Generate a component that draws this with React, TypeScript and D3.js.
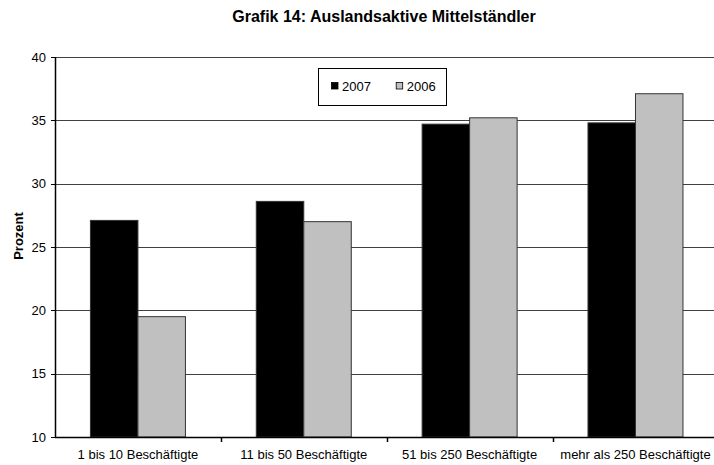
import React from "react";
import * as d3 from "d3";

const categories = [
  "1 bis 10 Beschäftigte",
  "11 bis 50 Beschäftigte",
  "51 bis 250 Beschäftigte",
  "mehr als 250 Beschäftigte",
];
const seriesNames = ["2007", "2006"];
const values2007 = [27.1, 28.6, 34.7, 34.8];
const values2006 = [19.5, 27.0, 35.2, 37.1];
const yTicks = [10, 15, 20, 25, 30, 35, 40];
const colors = ["#000000", "#C0C0C0"];

const W = 714;
const H = 465;
const FONT = "Liberation Sans, Arial, Helvetica, sans-serif";

export default function App() {
  const left = 55;
  const right = 718.4;
  const top = 57;
  const bottom = 437;

  const x = d3.scaleBand<string>().domain(categories).range([left, right]).padding(0);
  const xs = d3
    .scaleBand<string>()
    .domain(seriesNames)
    .range([0, x.bandwidth()])
    .paddingInner(0)
    .paddingOuter(0.746);
  const y = d3.scaleLinear().domain([10, 40]).range([bottom, top]);
  const seriesVals = [values2007, values2006];

  return (
    <svg
      width={W}
      height={H}
      style={{ position: "absolute", left: 0, top: 0, background: "#fff" }}
      fontFamily={FONT}
    >
      <rect x={0} y={0} width={W} height={H} fill="#fff" />
      <text x={384} y={22} textAnchor="middle" fontSize={16} fontWeight="bold">
        Grafik 14: Auslandsaktive Mittelständler
      </text>

      {/* gridlines */}
      {yTicks.slice(1).map((t) => (
        <line
          key={t}
          x1={left}
          x2={W}
          y1={Math.round(y(t)) + 0.5}
          y2={Math.round(y(t)) + 0.5}
          stroke="#000"
          strokeOpacity={0.75}
          strokeWidth={1}
        />
      ))}

      {/* bars */}
      {categories.map((c, i) =>
        seriesNames.map((s, j) => {
          const v = seriesVals[j][i];
          const x0 = (x(c) as number) + (xs(s) as number);
          return (
            <rect
              key={c + s}
              x={x0}
              y={y(v)}
              width={xs.bandwidth()}
              height={bottom - y(v)}
              fill={colors[j]}
              stroke="#333"
              strokeWidth={1}
            />
          );
        })
      )}

      {/* y axis */}
      <line x1={left + 0.5} x2={left + 0.5} y1={top} y2={bottom} stroke="#000" strokeWidth={1.5} />
      {yTicks.map((t) => (
        <g key={t}>
          <line
            x1={left - 4}
            x2={left}
            y1={Math.round(y(t)) + 0.5}
            y2={Math.round(y(t)) + 0.5}
            stroke="#000"
          />
          <text x={left - 9} y={y(t) + 4.5} textAnchor="end" fontSize={13}>
            {t}
          </text>
        </g>
      ))}
      <text
        transform={`translate(22.5,236) rotate(-90)`}
        textAnchor="middle"
        fontSize={13}
        fontWeight="bold"
      >
        Prozent
      </text>

      {/* x axis */}
      <line x1={left} x2={W} y1={bottom + 0.5} y2={bottom + 0.5} stroke="#000" strokeWidth={1.5} />
      {categories.map((c, i) => (
        <line
          key={"t" + i}
          x1={Math.round((x(c) as number) + x.bandwidth()) + 0.5}
          x2={Math.round((x(c) as number) + x.bandwidth()) + 0.5}
          y1={bottom}
          y2={bottom + 5}
          stroke="#000"
          strokeWidth={1.5}
        />
      ))}
      {categories.map((c) => (
        <text
          key={"l" + c}
          x={(x(c) as number) + x.bandwidth() / 2}
          y={458.5}
          textAnchor="middle"
          fontSize={13}
        >
          {c}
        </text>
      ))}

      {/* legend */}
      <rect x={318.5} y={68.5} width={128} height={37} fill="#fff" stroke="#000" strokeWidth={1} />
      {seriesNames.map((s, j) => (
        <g key={"lg" + s} transform={`translate(${331 + j * 64.7},0)`}>
          <rect x={0.5} y={82.5} width={6.5} height={6.5} fill={colors[j]} stroke="#000" strokeWidth={0.8} />
          <text x={11} y={91} fontSize={13}>
            {s}
          </text>
        </g>
      ))}
    </svg>
  );
}
